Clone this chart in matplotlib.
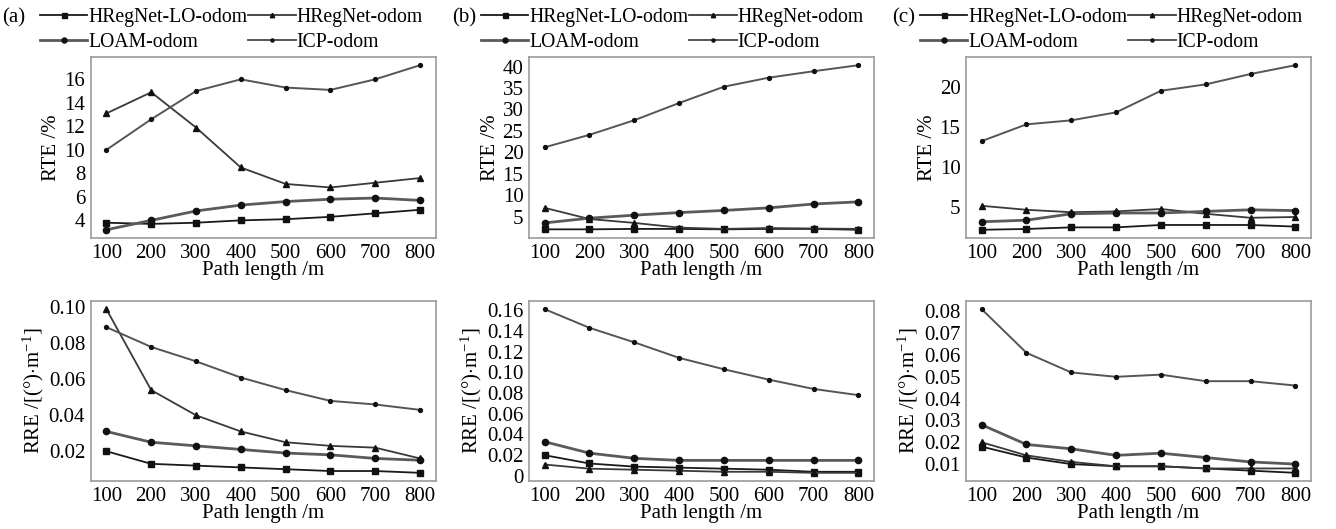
import matplotlib
matplotlib.use("Agg")
import matplotlib.pyplot as plt
from matplotlib.ticker import FuncFormatter, MultipleLocator

plt.rcParams['font.family'] = ['Liberation Serif', 'DejaVu Serif']
plt.rcParams['mathtext.fontset'] = 'custom'
plt.rcParams['mathtext.rm'] = 'Liberation Serif'
plt.rcParams['mathtext.it'] = 'Liberation Serif:italic'
plt.rcParams['font.size'] = 15

path_length = [100, 200, 300, 400, 500, 600, 700, 800]
series_names = ["HRegNet-LO-odom", "HRegNet-odom", "LOAM-odom", "ICP-odom"]
panel_tags = ["(a)", "(b)", "(c)"]

# RTE (%)
rte_a_hlo = [3.8, 3.7, 3.8, 4.0, 4.1, 4.3, 4.6, 4.9]
rte_a_hreg = [13.1, 14.9, 11.9, 8.5, 7.1, 6.8, 7.2, 7.6]
rte_a_loam = [3.2, 4.0, 4.8, 5.3, 5.6, 5.8, 5.9, 5.7]
rte_a_icp = [10.0, 12.6, 15.0, 16.0, 15.3, 15.1, 16.0, 17.2]

rte_b_hlo = [2.1, 2.1, 2.2, 2.2, 2.1, 2.2, 2.2, 2.0]
rte_b_hreg = [7.1, 4.5, 3.6, 2.5, 2.2, 2.4, 2.3, 2.2]
rte_b_loam = [3.6, 4.7, 5.4, 6.0, 6.5, 7.1, 8.0, 8.5]
rte_b_icp = [21.2, 24.1, 27.5, 31.5, 35.3, 37.4, 38.9, 40.3]

rte_c_hlo = [2.1, 2.2, 2.4, 2.4, 2.7, 2.7, 2.7, 2.5]
rte_c_hreg = [5.1, 4.6, 4.3, 4.4, 4.7, 4.1, 3.6, 3.7]
rte_c_loam = [3.1, 3.3, 4.1, 4.2, 4.2, 4.4, 4.6, 4.5]
rte_c_icp = [13.2, 15.3, 15.8, 16.8, 19.5, 20.3, 21.6, 22.7]

# RRE (deg/m)
rre_a_hlo = [0.020, 0.013, 0.012, 0.011, 0.010, 0.009, 0.009, 0.008]
rre_a_hreg = [0.099, 0.054, 0.040, 0.031, 0.025, 0.023, 0.022, 0.016]
rre_a_loam = [0.031, 0.025, 0.023, 0.021, 0.019, 0.018, 0.016, 0.015]
rre_a_icp = [0.089, 0.078, 0.070, 0.061, 0.054, 0.048, 0.046, 0.043]

rre_b_hlo = [0.020, 0.012, 0.009, 0.008, 0.007, 0.006, 0.004, 0.004]
rre_b_hreg = [0.011, 0.007, 0.006, 0.005, 0.004, 0.004, 0.003, 0.003]
rre_b_loam = [0.033, 0.022, 0.017, 0.015, 0.015, 0.015, 0.015, 0.015]
rre_b_icp = [0.161, 0.143, 0.129, 0.114, 0.103, 0.093, 0.084, 0.078]

rre_c_hlo = [0.018, 0.013, 0.010, 0.009, 0.009, 0.008, 0.007, 0.006]
rre_c_hreg = [0.020, 0.014, 0.011, 0.009, 0.009, 0.008, 0.008, 0.008]
rre_c_loam = [0.028, 0.019, 0.017, 0.014, 0.015, 0.013, 0.011, 0.010]
rre_c_icp = [0.081, 0.061, 0.052, 0.050, 0.051, 0.048, 0.048, 0.046]

rte_data = [
    [rte_a_hlo, rte_a_hreg, rte_a_loam, rte_a_icp],
    [rte_b_hlo, rte_b_hreg, rte_b_loam, rte_b_icp],
    [rte_c_hlo, rte_c_hreg, rte_c_loam, rte_c_icp],
]
rre_data = [
    [rre_a_hlo, rre_a_hreg, rre_a_loam, rre_a_icp],
    [rre_b_hlo, rre_b_hreg, rre_b_loam, rre_b_icp],
    [rre_c_hlo, rre_c_hreg, rre_c_loam, rre_c_icp],
]

styles = [
    dict(color='#1a1a1a', lw=1.3, marker='s', ms=4.5, mfc='#111111', mec='#111111'),
    dict(color='#3a3a3a', lw=1.3, marker='^', ms=4, mfc='#111111', mec='#111111'),
    dict(color='#5a5a5a', lw=2.0, marker='o', ms=4.5, mfc='#111111', mec='#111111'),
    dict(color='#555555', lw=1.4, marker='o', ms=2.8, mfc='#111111', mec='#111111'),
]

W, H = 1336, 529
fig = plt.figure(figsize=(W / 100, H / 100), dpi=100)

col_left = [90.7, 529, 966]
col_w = 345
top_row = (57, 238)
bot_row = (301, 481)

rte_steps = [2, 5, 5]
rre_steps = [0.02, 0.02, 0.01]


def fmt_rre(v, pos):
    if abs(v) < 1e-9:
        return "0"
    return f"{v:.2f}"


def style_ax(ax):
    for s in ax.spines.values():
        s.set_color('#9a9a9a')
        s.set_linewidth(1.2)
    ax.tick_params(length=0, pad=4, labelsize=15)
    ax.set_xticks(path_length)
    ax.set_xlabel("Path length /m", labelpad=-1)


for i in range(3):
    x0 = col_left[i] / W
    w = col_w / W
    ax1 = fig.add_axes([x0, (H - top_row[1]) / H, w, (top_row[1] - top_row[0]) / H])
    handles = []
    for j in range(4):
        (ln,) = ax1.plot(path_length, rte_data[i][j], label=series_names[j], **styles[j])
        handles.append(ln)
    style_ax(ax1)
    ax1.yaxis.set_major_locator(MultipleLocator(rte_steps[i]))
    ax1.set_ylabel("RTE /%", labelpad=2)

    ax2 = fig.add_axes([x0, (H - bot_row[1]) / H, w, (bot_row[1] - bot_row[0]) / H])
    for j in range(4):
        ax2.plot(path_length, rre_data[i][j], label=series_names[j], **styles[j])
    style_ax(ax2)
    ax2.yaxis.set_major_locator(MultipleLocator(rre_steps[i]))
    ax2.yaxis.set_major_formatter(FuncFormatter(fmt_rre))
    ax2.set_ylabel(r"RRE /[(°)$\cdot$m$^{-1}$]", labelpad=2)

    tag_x = [2, 452, 892][i]
    hand_x = [40, 481, 920][i]
    fig.text(tag_x / W, 1 - 18 / H, panel_tags[i], ha='left', va='center', fontsize=15)
    order = [0, 2, 1, 3]
    fig.legend([handles[k] for k in order], [series_names[k] for k in order],
               loc='upper left', bbox_to_anchor=(hand_x / W, 1 - 8 / H),
               ncol=2, frameon=False, fontsize=14.2, handlelength=2.4,
               handletextpad=0.05, columnspacing=0.05, labelspacing=0.3,
               borderpad=0, borderaxespad=0, markerscale=0.8)

fig.savefig("out.png", dpi=100)
